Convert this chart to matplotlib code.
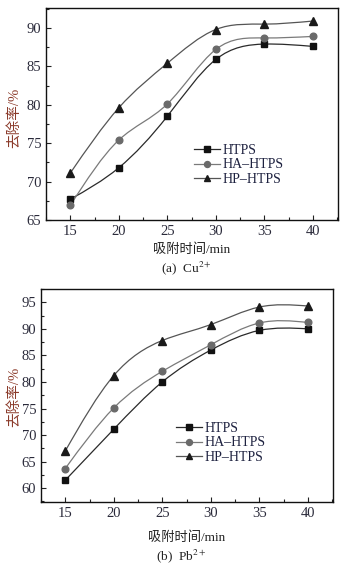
import numpy as np
import matplotlib
matplotlib.use("Agg")
import matplotlib.pyplot as plt
from matplotlib.path import Path
from matplotlib.patches import PathPatch
from matplotlib.ticker import MultipleLocator

plt.rcParams['font.family'] = ['Liberation Serif', 'Noto Sans CJK SC', 'DejaVu Sans']
plt.rcParams['mathtext.fontset'] = 'stix'

time = [15, 20, 25, 30, 35, 40]
series_names = ["HTPS", "HA–HTPS", "HP–HTPS"]

cu_htps = [67.7, 71.8, 78.5, 85.9, 87.9, 87.6]
cu_ha = [66.9, 75.4, 80.1, 87.2, 88.7, 88.9]
cu_hp = [71.1, 79.6, 85.4, 89.8, 90.5, 90.9]

pb_htps = [61.5, 71.1, 80.0, 86.0, 89.7, 90.0]
pb_ha = [63.7, 75.1, 82.0, 87.0, 91.1, 91.2]
pb_hp = [67.0, 81.2, 87.8, 90.8, 94.1, 94.3]

W, H = 359, 565
fig = plt.figure(figsize=(W / 100, H / 100), dpi=100)

line_colors = ['#2a2a2a', '#7a7a7a', '#555555']
marker_colors = ['#111111', '#6a6a6a', '#1a1a1a']
markers = ['s', 'o', '^']
label_color = '#8b3a2a'
tick_color = '#222222'


def spline_path(x, y):
    x = np.asarray(x, float)
    y = np.asarray(y, float)
    n = len(x)
    h = np.diff(x)
    A = np.zeros((n, n))
    b = np.zeros(n)
    A[0, 0] = 1
    A[-1, -1] = 1
    for i in range(1, n - 1):
        A[i, i - 1] = h[i - 1]
        A[i, i] = 2 * (h[i - 1] + h[i])
        A[i, i + 1] = h[i]
        b[i] = 3 * ((y[i + 1] - y[i]) / h[i] - (y[i] - y[i - 1]) / h[i - 1])
    c = np.linalg.solve(A, b)
    verts = [(x[0], y[0])]
    codes = [Path.MOVETO]
    for i in range(n - 1):
        bi = (y[i + 1] - y[i]) / h[i] - h[i] * (2 * c[i] + c[i + 1]) / 3
        di = bi + 2 * c[i] * h[i] + (c[i + 1] - c[i]) * h[i]
        m0, m1 = bi, di
        verts += [(x[i] + h[i] / 3, y[i] + m0 * h[i] / 3),
                  (x[i + 1] - h[i] / 3, y[i + 1] - m1 * h[i] / 3),
                  (x[i + 1], y[i + 1])]
        codes += [Path.CURVE4] * 3
    return Path(verts, codes)


def panel(rect, data, ylim, yticks, legend_pos, ylabel_y, xlabel_y, caption_y, caption):
    l, t, r, bt = rect
    ax = fig.add_axes([l / W, 1 - bt / H, (r - l) / W, (bt - t) / H])
    for k, vals in enumerate(data):
        ax.add_patch(PathPatch(spline_path(time, vals), facecolor='none',
                               edgecolor=line_colors[k], lw=0.9, zorder=2))
        ax.plot(time, vals, linestyle='none', marker=markers[k], ms=4.8 if k != 2 else 5.4,
                color=marker_colors[k], zorder=3)
    ax.set_xlim(12.5, 42.6)
    ax.set_ylim(*ylim)
    ax.set_xticks(time)
    ax.set_yticks(yticks)
    ax.xaxis.set_minor_locator(MultipleLocator(2.5))
    ax.yaxis.set_minor_locator(MultipleLocator(2.5))
    ax.tick_params(which='both', direction='in', top=False, right=False,
                   colors=tick_color, labelsize=10.5)
    ax.tick_params(which='major', length=3.5, width=0.8)
    ax.tick_params(which='minor', length=2, width=0.8)
    for s in ax.spines.values():
        s.set_linewidth(1.0)
        s.set_color('#111111')
    for lab in ax.get_xticklabels() + ax.get_yticklabels():
        lab.set_color('#2a2a3a')
    handles = []
    for k in range(3):
        h, = ax.plot([], [], color=line_colors[k], lw=0.9, marker=markers[k], ms=4.3,
                     markerfacecolor=marker_colors[k], markeredgecolor=marker_colors[k])
        handles.append(h)
    lx, ly = legend_pos
    ax.legend(handles, series_names, loc='upper left',
              bbox_to_anchor=((lx - l) / (r - l), 1 - (ly - t) / (bt - t)),
              frameon=False, fontsize=10, handlelength=1.9, handletextpad=0.15,
              labelspacing=0.1, borderpad=0, borderaxespad=0, labelcolor='#1e2240')
    fig.text(14 / W, 1 - ylabel_y / H, '去除率/%', rotation=90, ha='center', va='center',
             color=label_color, fontsize=10.5)
    cx = (l + r) / 2
    fig.text(cx / W, 1 - xlabel_y / H, '吸附时间/min', ha='center', va='center',
             color='#222222', fontsize=9.5)
    fig.text((cx - 6) / W, 1 - caption_y / H, caption, ha='center', va='center',
             color='#222222', fontsize=9.5)
    return ax


panel((46, 8, 338, 220), [cu_htps, cu_ha, cu_hp], (65, 92.6), [65, 70, 75, 80, 85, 90],
      (194, 144), 118, 250, 268, '(a)  Cu$^{2+}$')
panel((41, 289, 333, 502), [pb_htps, pb_ha, pb_hp], (57.4, 97.5), [60, 65, 70, 75, 80, 85, 90, 95],
      (176, 422), 397, 538, 556, '(b)  Pb$^{2+}$')

fig.savefig('out.png', dpi=100)
